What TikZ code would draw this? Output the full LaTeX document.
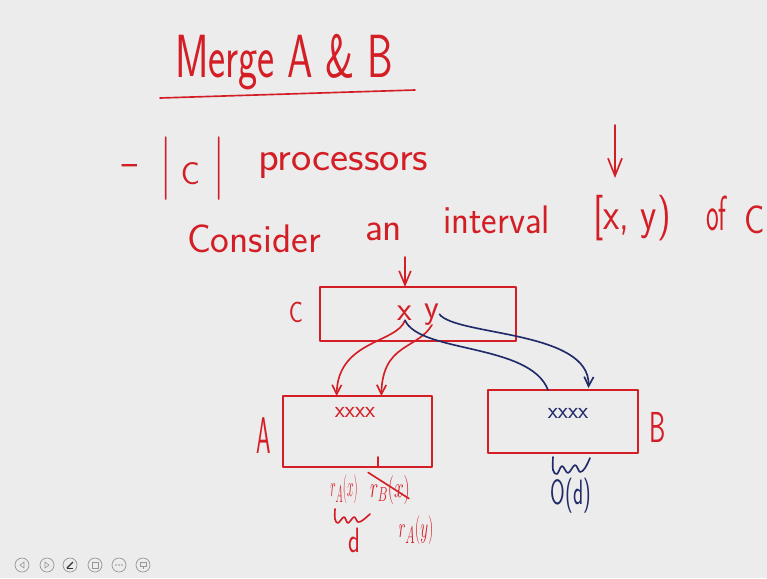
\documentclass[tikz,border=0pt]{standalone}
\usetikzlibrary{arrows.meta,calc}
\definecolor{inkred}{RGB}{212,30,38}
\definecolor{inkblue}{RGB}{32,42,105}
\definecolor{slide}{RGB}{236,236,236}
\definecolor{tool}{RGB}{150,150,150}
\begin{document}
\begin{tikzpicture}[x=0.03cm,y=-0.03cm,
  fs/.style={font=\sffamily\fontsize{#1}{#1}\selectfont},
  rtxt/.style={text=inkred,inner sep=0pt,outer sep=0pt},
  btxt/.style={text=inkblue,inner sep=0pt,outer sep=0pt},
  rpen/.style={draw=inkred,line width=1.4pt,line cap=round,line join=round},
  bpen/.style={draw=inkblue,line width=1.4pt,line cap=round,line join=round},
  bigtip/.style={-{Straight Barb[length=15pt,width=12pt]}},
  midtip/.style={-{Straight Barb[length=12pt,width=10pt]}},
  tip/.style={-{Straight Barb[length=8pt,width=8pt]}},
  rbox/.style={rpen,rectangle,inner sep=0pt,outer sep=0pt},
  toolbtn/.style={circle,draw=tool,line width=0.6pt,minimum size=0.42cm,inner sep=0pt}]
\fill[slide] (0,0) rectangle (767,578);
\useasboundingbox (0,0) rectangle (767,578);

% title
\node[rtxt,fs=52,anchor=base west] (title) at (175,77) {\scalebox{0.67}[1]{Merge A \& B}};
\draw[rpen] (160,98) -- (415,90);

% line 2
\node[rtxt,fs=35] (dash) at (131,169) {\scalebox{1.5}[1]{-}};
\node[rtxt,fs=35,anchor=base west] (card) at (160,184) {\scalebox{1}[1.55]{|}\hspace{8pt}{\fontsize{27}{27}\selectfont C}\hspace{12pt}\scalebox{1}[1.55]{|}};
\node[rtxt,fs=35,anchor=base west] (proc) at (258,170) {\scalebox{1.05}[1]{processors}};

% line 3
\node[rtxt,fs=34,anchor=base west] (w1) at (187,252) {Consider};
\node[rtxt,fs=34,anchor=base west] (w2) at (365,240) {an};
\node[rtxt,fs=34,anchor=base west] (w3) at (443,233) {\scalebox{0.93}[1]{interval}};
\node[rtxt,fs=39,anchor=base west] (w4) at (593,229) {\scalebox{0.82}[1]{[x, y)}};
\node[rtxt,fs=42,anchor=base west] (w5) at (706,230) {\scalebox{0.55}[1]{of}};
\node[rtxt,fs=34,anchor=base west] (w6) at (744,233) {\scalebox{0.85}[1]{C}};
\coordinate (t1) at (615,125);
\coordinate (h1) at (615,178);
\draw[rpen,bigtip] (t1) -- (h1);

% boxes
\node[rbox,minimum width=5.88cm,minimum height=1.62cm] (Cbox) at (418,314) {};
\node[rbox,minimum width=4.47cm,minimum height=2.13cm] (Abox) at (357.5,431.5) {};
\node[rbox,minimum width=4.5cm,minimum height=1.89cm] (Bbox) at (563,421.5) {};
\node[rtxt,fs=25] (Clab) at (296,312) {\scalebox{0.8}[1]{C}};
\node[rtxt,fs=44] (Alab) at (264,436) {\scalebox{0.45}[1]{A}};
\node[rtxt,fs=37] (Blab) at (658,427) {\scalebox{0.6}[1]{B}};

\coordinate (t2) at (405,257);
\draw[rpen,midtip] (t2) -- (Cbox.north -| t2);

% x and y in C
\node[rtxt,fs=29] (px) at (405,313) {x};
\node[rtxt,fs=29,anchor=base] (py) at (432,318) {y};

\node[rtxt,fs=20] (ax) at (355,412) {xxxx};
\node[btxt,fs=20] (bx) at (568,413) {xxxx};

% connectors
\draw[rpen,tip] (px.south) .. controls +(-8,23) and +(1,-56) .. ($(Abox.north west)!0.36!(Abox.north east)$);
\draw[rpen,tip] (py.south) .. controls +(-15,25) and +(1,-53) .. ($(Abox.north west)!0.66!(Abox.north east)$);
\draw[bpen] (px.south) .. controls +(15,33) and +(-18,-47) .. ($(Bbox.north west)!0.4!(Bbox.north east)$);
\draw[bpen,tip] (py.east) .. controls +(17,22) and +(2,-58) .. ($(Bbox.north west)!0.67!(Bbox.north east)+(0,-2)$);

% tick on A
\draw[rpen] (Abox.south) ++(20.5,0) -- ++(0,-10);

% below A
\node[rtxt,fs=28] (rax) at (344,489) {\scalebox{0.4}[1]{$r_A(x)$}};
\node[rtxt,fs=26] (rbx) at (390,490) {\scalebox{0.6}[1]{$r_B(x)$}};
\draw[rpen] ([shift={(-2,-3)}]rbx.north west) -- ([shift={(-1,-6)}]rbx.south east);
\draw[rpen] plot[smooth,tension=0.6] coordinates {(335,509) (335,519) (338,523) (344,517) (348,523) (354,517) (358,522) (363,520) (370,514)};
\node[rtxt,fs=30] (dd) at (354,540) {\scalebox{0.7}[1]{d}};
\node[rtxt,fs=32] (ray) at (416,530) {\scalebox{0.52}[1]{$r_A(y)$}};

% below B
\draw[bpen] plot[smooth,tension=0.6] coordinates {(553,457) (553,470) (557,474) (562,466) (568,473) (575,465) (580,472) (585,468) (590,458)};
\node[btxt,fs=30] (od) at (571,496) {\scalebox{0.6}[1]{O(d)}};

% toolbar
\foreach \tx [count=\i] in {22,47,70,95,119,143} {
  \node[toolbtn] (tb\i) at (\tx,565) {};
}
\draw[tool,line width=0.5pt] ([shift={(2,-3)}]tb1.center) -- ([shift={(-2,0)}]tb1.center) -- ([shift={(2,3)}]tb1.center) -- cycle;
\draw[tool,line width=0.5pt] ([shift={(-2,-3)}]tb2.center) -- ([shift={(2,0)}]tb2.center) -- ([shift={(-2,3)}]tb2.center) -- cycle;
\draw[black!80,line width=1.1pt] ([shift={(-3,3)}]tb3.center) -- ([shift={(3,-3)}]tb3.center);
\draw[black!80,line width=0.5pt] ([shift={(-3,3)}]tb3.center) -- ([shift={(3,3)}]tb3.center);
\draw[tool,line width=0.5pt] ([shift={(-3,-3)}]tb4.center) rectangle ([shift={(3,3)}]tb4.center);
\foreach \dx in {-3,0,3} { \fill[tool] ([shift={(\dx,0)}]tb5.center) circle (0.025cm); }
\draw[tool,line width=0.5pt] ([shift={(-3,-3)}]tb6.center) rectangle ([shift={(3,1)}]tb6.center);
\draw[tool,line width=0.5pt] ([shift={(0,1)}]tb6.center) -- ([shift={(0,4)}]tb6.center);
\end{tikzpicture}
\end{document}
